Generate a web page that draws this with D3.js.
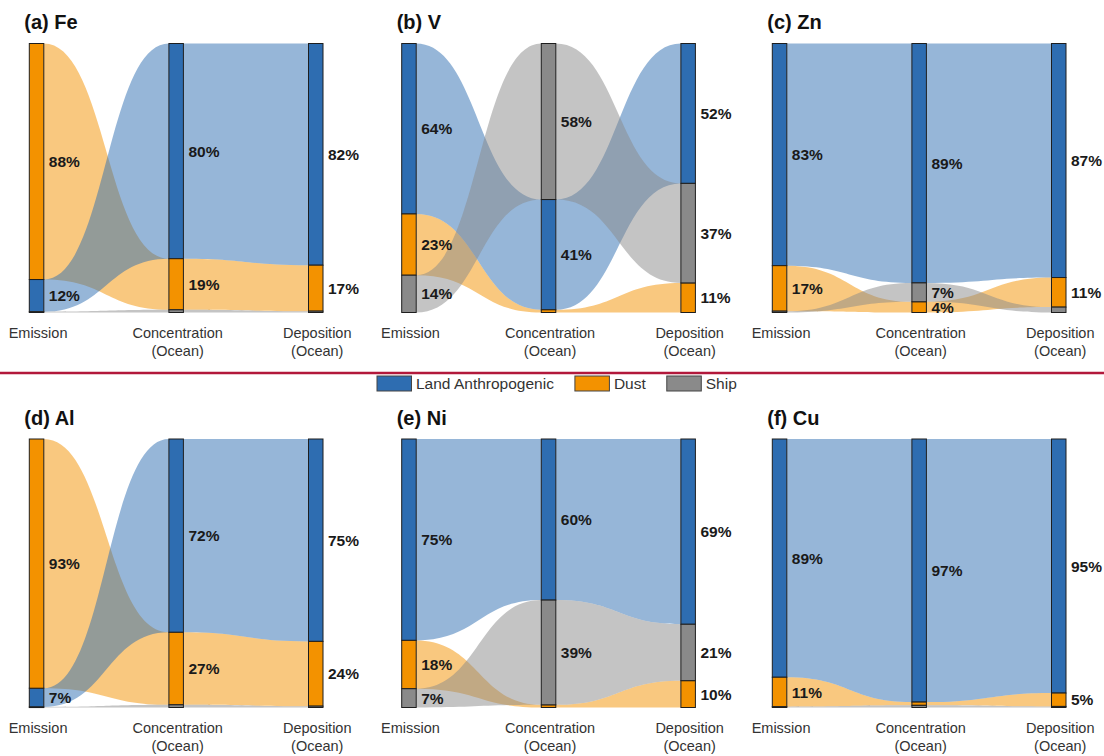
<!DOCTYPE html>
<html>
<head>
<meta charset="utf-8">
<script src="https://cdn.jsdelivr.net/npm/d3@7"></script>
<style>
  html, body { margin: 0; padding: 0; background: #fff; }
  svg { display: block; font-family: "Liberation Sans", Arial, sans-serif; }
</style>
</head>
<body>
<svg id="chart" width="1104" height="756"></svg>
<script>
// Source-apportionment shares (%) of six trace metals along three stages
const elements = ["(a) Fe", "(b) V", "(c) Zn", "(d) Al", "(e) Ni", "(f) Cu"];
const stages = ["Emission", "Concentration|(Ocean)", "Deposition|(Ocean)"];
const sources = ["Land Anthropogenic", "Dust", "Ship"];

// one row per element: [Emission, Concentration, Deposition]
const landShare = [[12, 80, 82], [64, 41, 52], [83, 89, 87], [7, 72, 75], [75, 60, 69], [89, 97, 95]];
const dustShare = [[88, 19, 17], [23, 1, 11], [17, 4, 11], [93, 27, 24], [18, 1, 10], [11, 1.2, 5]];
const shipShare = [[0.3, 1, 0.5], [14, 58, 37], [0.5, 7, 2], [0.2, 1, 0.5], [7, 39, 21], [0.3, 0.8, 0.4]];

const sourceColor = d3.scaleOrdinal().domain(sources).range(["#2e6db1", "#f39200", "#8a8a8a"]);
// ribbons are painted dust first, then land, then ship on top
const ribbonOrder = ["Dust", "Land Anthropogenic", "Ship"];

const svg = d3.select("#chart");
const barW = 14.5;
const panelLeft = [29.3, 401.7, 772.3];
const rowTop = [43.5, 439];
const rowBottom = [312.5, 707.5];
const labelThreshold = 4;

function shareRows(i) {
  return [landShare[i], dustShare[i], shipShare[i]];
}

elements.forEach((name, i) => {
  const row = Math.floor(i / 3), colIdx = i % 3;
  const left = panelLeft[colIdx];
  const g = svg.append("g");

  const x = d3.scalePoint().domain(stages).range([left + barW / 2, left + 279.2 + barW / 2]);
  const shares = shareRows(i);

  // stack each stage's sources, largest on top
  const layout = stages.map((st, s) => {
    const vals = sources.map((src, k) => ({ src, value: shares[k][s] }));
    const total = d3.sum(vals, d => d.value);
    const y = d3.scaleLinear().domain([0, total]).range([rowTop[row], rowBottom[row]]);
    const sorted = vals.slice().sort((a, b) => b.value - a.value);
    let acc = 0;
    const seg = {};
    sorted.forEach(d => {
      seg[d.src] = { src: d.src, value: d.value, y0: y(acc), y1: y(acc + d.value), stage: st };
      acc += d.value;
    });
    return seg;
  });

  // ribbons between adjacent stages
  const flows = g.append("g");
  for (let s = 0; s < stages.length - 1; s++) {
    const xa = x(stages[s]) + barW / 2;
    const xb = x(stages[s + 1]) - barW / 2;
    const xm = (xa + xb) / 2;
    ribbonOrder.forEach(src => {
      const a = layout[s][src], b = layout[s + 1][src];
      const p = d3.path();
      p.moveTo(xa, a.y0);
      p.bezierCurveTo(xm, a.y0, xm, b.y0, xb, b.y0);
      p.lineTo(xb, b.y1);
      p.bezierCurveTo(xm, b.y1, xm, a.y1, xa, a.y1);
      p.closePath();
      flows.append("path")
        .attr("d", p.toString())
        .attr("fill", sourceColor(src))
        .attr("fill-opacity", 0.5);
    });
  }

  // stacked stage bars
  stages.forEach((st, s) => {
    const segs = sources.map(src => layout[s][src]);
    g.append("g").selectAll("rect").data(segs).join("rect")
      .attr("x", x(st) - barW / 2)
      .attr("y", d => d.y0)
      .attr("width", barW)
      .attr("height", d => Math.max(0.6, d.y1 - d.y0))
      .attr("fill", d => sourceColor(d.src))
      .attr("stroke", "#1e1e1e")
      .attr("stroke-width", 1);

    g.append("g").selectAll("text").data(segs.filter(d => d.value >= labelThreshold)).join("text")
      .attr("x", x(st) + barW / 2 + 5)
      .attr("y", d => (d.y0 + d.y1) / 2)
      .attr("dy", "0.36em")
      .attr("font-size", 15.5)
      .attr("font-weight", "bold")
      .attr("fill", "#1a1a1a")
      .text(d => `${d.value}%`);

    const lines = st.split("|");
    const lab = g.append("text")
      .attr("text-anchor", "middle")
      .attr("font-size", 14.5)
      .attr("fill", "#333");
    lines.forEach((ln, k) => {
      lab.append("tspan")
        .attr("x", x(st) + 1.5)
        .attr("y", rowBottom[row] + 25.5 + k * 18)
        .text(ln);
    });
  });

  // panel title
  g.append("text")
    .attr("x", left - 5)
    .attr("y", rowTop[row] - 14.5)
    .attr("font-size", 20)
    .attr("font-weight", "bold")
    .attr("fill", "#111")
    .text(name);
});

// divider between the two rows
svg.append("line")
  .attr("x1", 0).attr("x2", 1104)
  .attr("y1", 373).attr("y2", 373)
  .attr("stroke", "#b2183b")
  .attr("stroke-width", 2.5);

// legend
const legend = svg.append("g");
let lx = 377;
sources.forEach(src => {
  legend.append("rect")
    .attr("x", lx).attr("y", 376)
    .attr("width", 34.5).attr("height", 15)
    .attr("fill", sourceColor(src))
    .attr("stroke", "#444").attr("stroke-width", 1);
  const t = legend.append("text")
    .attr("x", lx + 39).attr("y", 389)
    .attr("font-size", 15.5)
    .attr("fill", "#333")
    .text(src);
  lx += 39 + t.node().getComputedTextLength() + 21;
});
</script>
</body>
</html>
